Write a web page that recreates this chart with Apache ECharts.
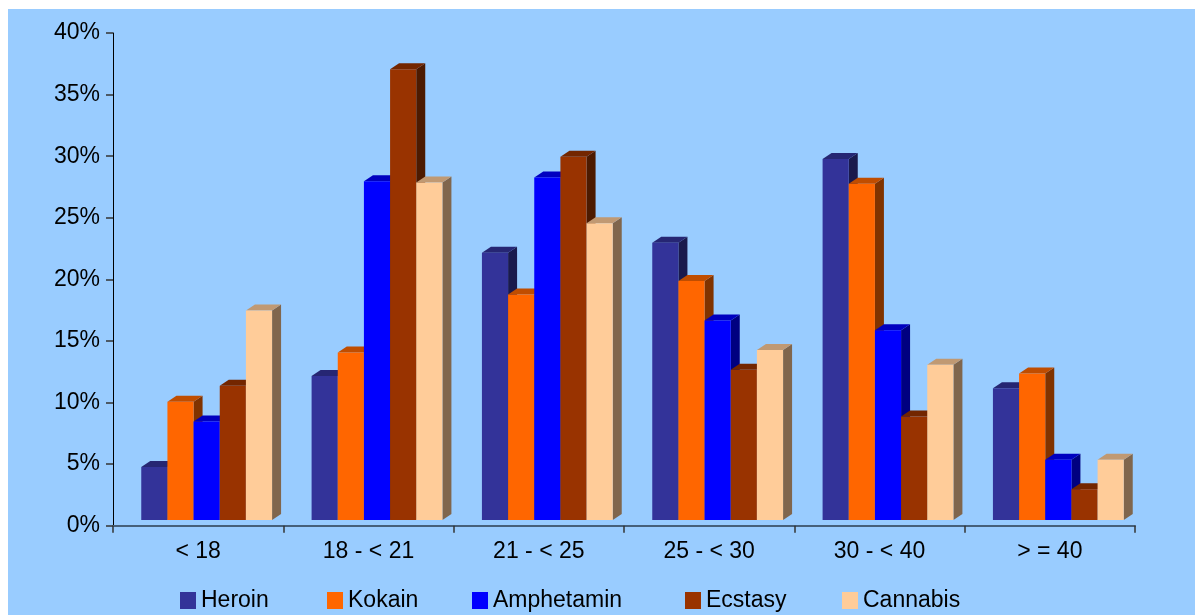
<!DOCTYPE html>
<html>
<head>
<meta charset="utf-8">
<script src="https://cdn.jsdelivr.net/npm/echarts@6/dist/echarts.min.js"></script>
<style>
  html, body { margin: 0; padding: 0; background: #ffffff; }
  #bg { position: absolute; left: 8px; top: 9px; width: 1187px; height: 606px; background: #99CCFF; }
  #chart { position: absolute; left: 0; top: 0; width: 1195px; height: 615px; }
</style>
</head>
<body>
<div id="bg"></div>
<div id="chart"></div>
<script>
// ---- data ----
const categories = ['< 18', '18 - < 21', '21 - < 25', '25 - < 30', '30 - < 40', '> = 40'];
const seriesNames = ['Heroin', 'Kokain', 'Amphetamin', 'Ecstasy', 'Cannabis'];
const heroin     = [4.3, 11.7, 21.7, 22.5, 29.3, 10.7];
const kokain     = [9.6, 13.6, 18.3, 19.4, 27.3, 11.9];
const amphetamin = [8.0, 27.5, 27.8, 16.2, 15.4, 4.9];
const ecstasy    = [10.9, 36.6, 29.5, 12.2, 8.4, 2.5];
const cannabis   = [17.0, 27.4, 24.1, 13.8, 12.6, 4.9];
const yTicks = [0, 5, 10, 15, 20, 25, 30, 35, 40];

// ---- styles ----
const frontColors = ['#333399', '#FF6600', '#0000FF', '#993300', '#FFCC99'];
const topColors   = ['#262673', '#C04D00', '#0000C0', '#732600', '#C09973'];
const sideColors  = ['#1A1A4D', '#803300', '#000080', '#4D1A00', '#80664D'];
const legendLeft  = [180, 327, 472, 685, 842];
const seriesData = [heroin, kokain, amphetamin, ecstasy, cannabis];
const FONT = "'Liberation Sans', Arial, sans-serif";

const chart = echarts.init(document.getElementById('chart'), null, { renderer: 'canvas' });

function makeRender(idx) {
  return function (params, api) {
    const cat = api.value(0);
    const v = api.value(1);
    const base = api.coord([cat, 0]);
    const top = api.coord([cat, v]);
    const band = api.size([1, 0])[0];
    const w = band * 0.1536;
    const shiftX = 8.5, shiftY = -5.7;
    const dx = 9, dy = 6;
    const x0 = base[0] - 2.5 * w + idx * w + shiftX;
    const x1 = x0 + w;
    const yb = base[1] + shiftY;
    const yt = top[1] + shiftY;
    return {
      type: 'group',
      children: [
        { type: 'polygon', shape: { points: [[x1, yt], [x1 + dx, yt - dy], [x1 + dx, yb - dy], [x1, yb]] },
          style: { fill: sideColors[idx] } },
        { type: 'polygon', shape: { points: [[x0, yt], [x0 + dx, yt - dy], [x1 + dx, yt - dy], [x1, yt]] },
          style: { fill: topColors[idx] } },
        { type: 'rect', shape: { x: x0, y: yt, width: w, height: yb - yt },
          style: { fill: frontColors[idx] } }
      ]
    };
  };
}

const series = seriesNames.map((name, i) => ({
  name: name,
  type: 'custom',
  renderItem: makeRender(i),
  itemStyle: { color: frontColors[i] },
  encode: { x: 0, y: 1 },
  data: seriesData[i].map((v, c) => [c, v]),
  clip: false
}));

const legends = seriesNames.map((name, i) => ({
  data: [name],
  left: legendLeft[i], top: 589, padding: 0,
  icon: 'rect', itemWidth: 16, itemHeight: 17,
  textStyle: { fontFamily: FONT, fontSize: 23, color: '#000' }
}));

chart.setOption({
  backgroundColor: 'transparent',
  animation: false,
  grid: { left: 113, right: 60, top: 33, bottom: 89.3, containLabel: false },
  legend: legends,
  xAxis: {
    type: 'category',
    data: categories,
    boundaryGap: true,
    axisLine: { lineStyle: { color: '#46607A', width: 2 } },
    axisTick: { show: true, length: 7, lineStyle: { color: '#333', width: 1.5 } },
    axisLabel: { fontFamily: FONT, fontSize: 23, color: '#000', margin: 14 },
    splitLine: { show: false }
  },
  yAxis: {
    type: 'value',
    min: yTicks[0], max: yTicks[yTicks.length - 1], interval: 5,
    axisLine: { show: true, lineStyle: { color: '#000', width: 1 } },
    axisTick: { show: true, length: 7, lineStyle: { color: '#333', width: 1.5 } },
    axisLabel: { fontFamily: FONT, fontSize: 23, color: '#000', margin: 13, formatter: '{value}%' },
    splitLine: { show: false }
  },
  series: series
});
</script>
</body>
</html>
